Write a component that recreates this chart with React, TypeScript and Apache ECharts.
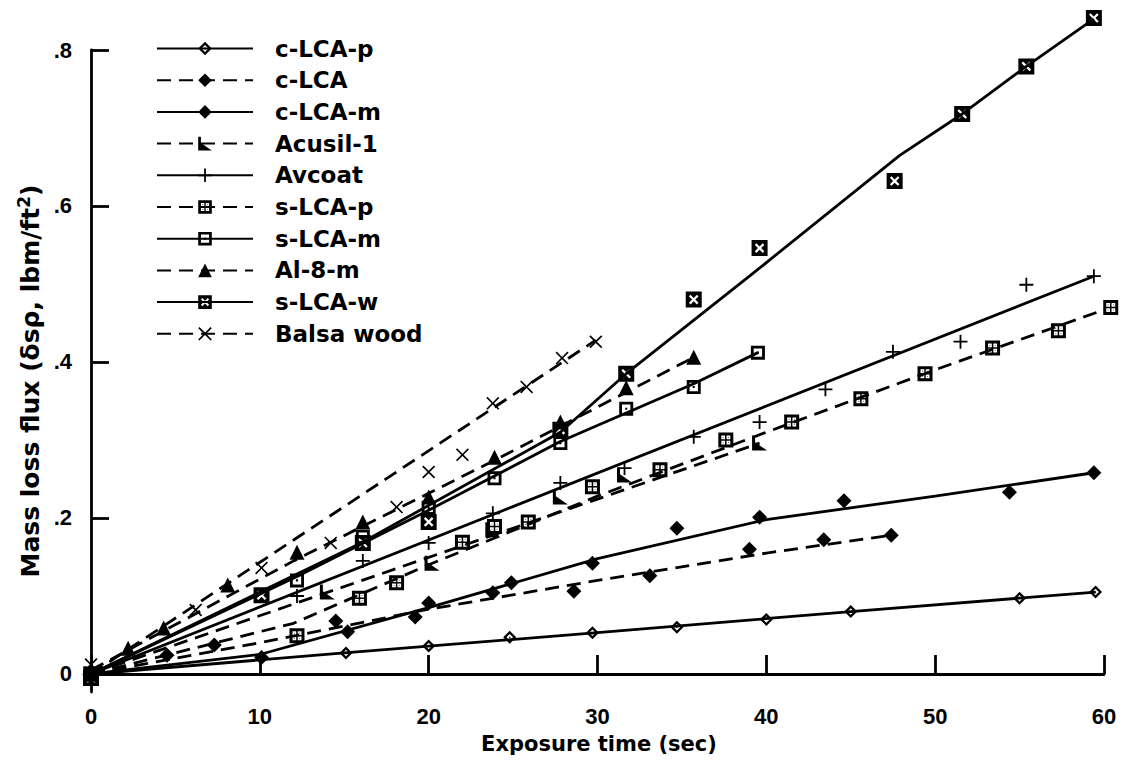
import React, { useEffect, useRef } from 'react';
import * as echarts from 'echarts';

// ---------- data ----------
const seriesNames = ['c-LCA-p', 'c-LCA', 'c-LCA-m', 'Acusil-1', 'Avcoat', 's-LCA-p', 's-LCA-m', 'Al-8-m', 's-LCA-w', 'Balsa wood'];

const xTicks = [0, 10, 20, 30, 40, 50, 60];
const yTicks = [0, 0.2, 0.4, 0.6, 0.8];

// measured points [time (sec), mass loss flux]
const cLCApPts = [[0, 0], [15.1, 0.027], [20, 0.036], [24.8, 0.047], [29.7, 0.053], [34.7, 0.06], [40, 0.07], [45, 0.08], [55, 0.097], [59.5, 0.105]];
const cLCAPts = [[0, 0], [4.5, 0.024], [7.3, 0.037], [14.5, 0.068], [19.2, 0.073], [23.8, 0.104], [28.6, 0.106], [33.1, 0.126], [39, 0.16], [43.4, 0.172], [47.4, 0.178]];
const cLCAmPts = [[0, 0], [10.1, 0.021], [15.2, 0.054], [20, 0.091], [24.9, 0.117], [29.7, 0.142], [34.7, 0.187], [39.6, 0.201], [44.6, 0.222], [54.4, 0.233], [59.4, 0.258]];
const acusilPts = [[0, 0], [14, 0.105], [20.2, 0.142], [23.8, 0.185], [27.8, 0.227], [31.6, 0.255], [39.6, 0.296]];
const avcoatPts = [[0, 0], [12.2, 0.1], [16.1, 0.145], [20, 0.168], [23.8, 0.206], [27.8, 0.245], [31.6, 0.264], [35.7, 0.304], [39.6, 0.323], [43.5, 0.365], [47.5, 0.413], [51.5, 0.426], [55.4, 0.499], [59.4, 0.51]];
const sLCApPts = [[0, 0], [12.2, 0.049], [15.9, 0.097], [18.1, 0.117], [22, 0.169], [23.9, 0.189], [25.9, 0.195], [29.7, 0.24], [33.7, 0.262], [37.6, 0.3], [41.5, 0.323], [45.6, 0.353], [49.4, 0.385], [53.4, 0.418], [57.3, 0.44], [60.4, 0.47]];
const sLCAmPts = [[0, 0], [12.2, 0.12], [16.1, 0.176], [20, 0.213], [23.9, 0.251], [27.8, 0.296], [31.7, 0.34], [35.7, 0.368], [39.5, 0.412]];
const al8mPts = [[0, 0.005], [2.2, 0.033], [4.3, 0.059], [8.1, 0.114], [12.2, 0.156], [16.1, 0.195], [20, 0.227], [23.9, 0.278], [27.8, 0.323], [31.7, 0.367], [35.7, 0.406]];
const sLCAwPts = [[0, -0.005], [10.1, 0.101], [16.1, 0.168], [20, 0.195], [27.8, 0.313], [31.7, 0.385], [35.7, 0.48], [39.6, 0.546], [47.6, 0.632], [51.6, 0.718], [55.4, 0.779], [59.4, 0.841]];
const balsaPts = [[0, 0.012], [6.2, 0.082], [10.1, 0.136], [14.2, 0.168], [18.1, 0.214], [20, 0.259], [22, 0.281], [23.8, 0.347], [25.8, 0.368], [27.9, 0.405], [29.9, 0.426]];

// fitted curves drawn through the data
const cLCApFit = [[0, 0], [15, 0.027], [30, 0.053], [45, 0.08], [59.5, 0.105]];
const cLCAFit = [[0, 0], [10, 0.04], [20, 0.083], [30, 0.12], [40, 0.155], [47.4, 0.178]];
const cLCAmFit = [[0, 0], [10, 0.025], [20, 0.085], [30, 0.148], [40, 0.198], [50, 0.228], [59.4, 0.258]];
const acusilFit = [[0, 0], [39.6, 0.296]];
const avcoatFit = [[0, 0], [59.4, 0.51]];
const sLCApFit = [[0, 0], [12, 0.065], [20, 0.14], [30, 0.228], [40, 0.31], [50, 0.39], [60.4, 0.47]];
const sLCAmFit = [[0, 0], [12.2, 0.125], [20, 0.21], [27.8, 0.298], [35.7, 0.372], [39.5, 0.412]];
const al8mFit = [[0, 0.005], [12, 0.145], [24, 0.275], [35.7, 0.406]];
const sLCAwFit = [[0, 0], [16, 0.168], [27.8, 0.31], [31.7, 0.385], [39, 0.51], [47.9, 0.665], [51.6, 0.718], [55.4, 0.779], [59.4, 0.84]];
const balsaFit = [[0, 0], [29.9, 0.428]];

// ---------- marker shapes ----------
const SQ = 'M0 0H20V20H0Z';
const SYM_HOLLOW_DIAMOND = 'path://M10 0L20 10L10 20L0 10Z M10 5L5 10L10 15L15 10Z M9 9H11V11H9Z';
const SYM_FLAG = 'path://M5 0H8V9L20 20H5Z';
const SYM_PLUS = 'path://M8.7 0H11.3V8.7H20V11.3H11.3V20H8.7V11.3H0V8.7H8.7Z';
const SYM_GRID_SQ = 'path://' + SQ + ' M4 4V9H9V4Z M11 4V9H16V4Z M4 11V16H9V11Z M11 11V16H16V11Z M6 6H7V7H6Z M13 6H14V7H13Z M6 13H7V14H6Z M13 13H14V14H13Z';
const SYM_DOT_SQ = 'path://' + SQ + ' M4 4V16H16V4Z M8.5 8.5H11.5V11.5H8.5Z';
const SYM_X_SQ = 'path://' + SQ + ' M8 10L4 14L6 16L10 12L14 16L16 14L12 10L16 6L14 4L10 8L6 4L4 6Z';
const SYM_X = 'path://M0 1.8L1.8 0L10 8.2L18.2 0L20 1.8L11.8 10L20 18.2L18.2 20L10 11.8L1.8 20L0 18.2L8.2 10Z';

const DASH = [14, 8];
const LINE_W = 2.8;

const looks: Record<string, { dashed: boolean; symbol: string; size: number }> = {
  'c-LCA-p': { dashed: false, symbol: SYM_HOLLOW_DIAMOND, size: 13 },
  'c-LCA': { dashed: true, symbol: 'diamond', size: 15 },
  'c-LCA-m': { dashed: false, symbol: 'diamond', size: 15 },
  'Acusil-1': { dashed: true, symbol: SYM_FLAG, size: 15 },
  'Avcoat': { dashed: false, symbol: SYM_PLUS, size: 14 },
  's-LCA-p': { dashed: true, symbol: SYM_GRID_SQ, size: 15 },
  's-LCA-m': { dashed: false, symbol: SYM_DOT_SQ, size: 14 },
  'Al-8-m': { dashed: true, symbol: 'triangle', size: 15 },
  's-LCA-w': { dashed: false, symbol: SYM_X_SQ, size: 16 },
  'Balsa wood': { dashed: true, symbol: SYM_X, size: 13 },
};

const pointSets = [cLCApPts, cLCAPts, cLCAmPts, acusilPts, avcoatPts, sLCApPts, sLCAmPts, al8mPts, sLCAwPts, balsaPts];
const fitSets = [cLCApFit, cLCAFit, cLCAmFit, acusilFit, avcoatFit, sLCApFit, sLCAmFit, al8mFit, sLCAwFit, balsaFit];

const LABEL_FONT = 'Liberation Sans, Arial, sans-serif';
const NAME_FONT = 'DejaVu Sans, sans-serif';

export default function App() {
  const ref = useRef<HTMLDivElement>(null);

  useEffect(() => {
    if (!ref.current) return;
    const chart = echarts.init(ref.current, undefined, { renderer: 'svg' });

    const series: any[] = [];
    seriesNames.forEach((name, i) => {
      const lk = looks[name];
      series.push({
        type: 'line',
        name,
        data: fitSets[i],
        showSymbol: false,
        symbol: lk.symbol,
        symbolSize: lk.size,
        clip: false,
        silent: true,
        z: 2,
        itemStyle: { color: '#000' },
        lineStyle: { color: '#000', width: LINE_W, type: lk.dashed ? DASH : 'solid' },
      });
      series.push({
        type: 'scatter',
        name,
        data: pointSets[i],
        symbol: lk.symbol,
        symbolSize: lk.size,
        clip: false,
        z: 3,
        itemStyle: { color: '#000', opacity: 1 },
      });
    });

    chart.setOption({
      animation: false,
      backgroundColor: '#fff',
      grid: { left: 84, right: 22, top: 50, bottom: 71, containLabel: false, outerBoundsMode: 'none' },
      legend: {
        data: seriesNames,
        orient: 'vertical',
        left: 156,
        top: 37,
        padding: 0,
        itemWidth: 96,
        itemHeight: 17,
        itemGap: 8.7,
        selectedMode: false,
        textStyle: {
          color: '#000',
          fontFamily: NAME_FONT,
          fontWeight: 'bold',
          fontSize: 23,
          padding: [0, 0, 0, 17],
        },
      },
      xAxis: {
        type: 'value',
        min: -0.415,
        max: 60,
        name: 'Exposure time (sec)',
        nameLocation: 'middle',
        nameGap: 41,
        nameTextStyle: { color: '#000', fontFamily: NAME_FONT, fontWeight: 'bold', fontSize: 21, padding: [0, 0, 0, 10] },
        axisLine: { show: true, lineStyle: { color: '#000', width: LINE_W } },
        axisTick: { show: true, inside: true, length: 19, customValues: xTicks, lineStyle: { color: '#000', width: LINE_W } },
        axisLabel: { customValues: xTicks, color: '#000', fontFamily: LABEL_FONT, fontWeight: 'bold', fontSize: 22, margin: 13 },
        splitLine: { show: false },
      },
      yAxis: {
        type: 'value',
        min: -0.0231,
        max: 0.8,
        name: '{a|Mass loss flux (δsρ, lbm/ft}{s|2}{a|)}',
        nameLocation: 'middle',
        nameGap: 36,
        nameTextStyle: {
          color: '#000',
          fontFamily: NAME_FONT,
          fontWeight: 'bold',
          fontSize: 25,
          padding: [0, 20, 0, 0],
          rich: {
            a: { color: '#000', fontFamily: NAME_FONT, fontWeight: 'bold', fontSize: 25, lineHeight: 29 },
            s: { color: '#000', fontFamily: NAME_FONT, fontWeight: 'bold', fontSize: 17, lineHeight: 29, verticalAlign: 'top' },
          },
        },
        axisLine: { show: true, lineStyle: { color: '#000', width: LINE_W } },
        axisTick: { show: true, inside: true, length: 18, customValues: yTicks, lineStyle: { color: '#000', width: LINE_W } },
        axisLabel: {
          customValues: yTicks,
          color: '#000',
          fontFamily: LABEL_FONT,
          fontWeight: 'bold',
          fontSize: 22,
          margin: 12,
          formatter: (v: number) => (v === 0 ? '0' : String(v).replace(/^0\./, '.')),
        },
        splitLine: { show: false },
      },
      series,
    });

    return () => chart.dispose();
  }, []);

  return (
    <div
      ref={ref}
      style={{ position: 'fixed', left: 0, top: 0, width: 1126, height: 763, background: '#fff' }}
    />
  );
}
